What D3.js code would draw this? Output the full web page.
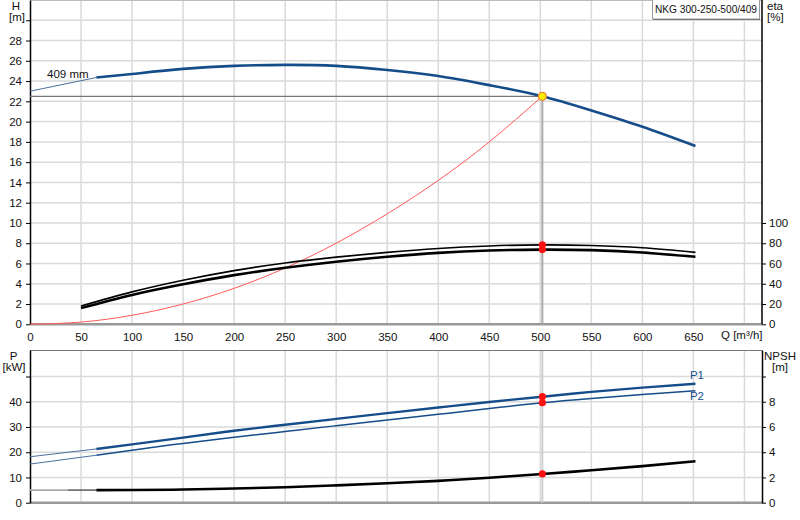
<!DOCTYPE html>
<html><head><meta charset="utf-8">
<script src="https://cdn.jsdelivr.net/npm/d3@7"></script>
<style>
html,body{margin:0;padding:0;background:#fff;}
svg{display:block;font-family:"Liberation Sans",Arial,sans-serif;}
</style></head>
<body><svg id="c" width="800" height="520"></svg>
<script>
// ---- data ----
const qHext = [0, 65];
const hExt = [23.0, 24.35];
const qH = [65, 100, 150, 200, 250, 300, 350, 400, 450, 500, 550, 600, 652];
const hVals = [24.35, 24.7, 25.2, 25.5, 25.6, 25.5, 25.1, 24.5, 23.6, 22.55, 21.1, 19.5, 17.6];

const qEta = [50, 100, 150, 200, 250, 300, 350, 400, 450, 500, 550, 600, 652];
const eta1 = [18, 32, 43.5, 53, 60.5, 66.3, 71, 74.8, 77.3, 78.4, 77.8, 75.5, 71];
const eta2 = [16, 29, 39.5, 48.5, 55.8, 61.8, 66.7, 70.5, 72.8, 73.7, 73.2, 70.9, 66.6];

const qSys = [0, 50, 100, 150, 200, 250, 300, 350, 400, 450, 502];
const hSys = [0, 0.22, 0.89, 2.0, 3.55, 5.55, 8.0, 10.9, 14.2, 18.0, 22.5];

const qPext = [0, 65];
const p1Ext = [18.2, 21.3];
const p2Ext = [15.3, 18.8];
const qP = [65, 100, 150, 200, 250, 300, 350, 400, 450, 502, 550, 600, 652];
const p1 = [21.3, 23.1, 25.8, 28.5, 30.9, 33.2, 35.5, 37.7, 39.9, 42.0, 43.9, 45.6, 47.1];
const p2 = [18.8, 20.8, 23.5, 25.9, 28.2, 30.5, 32.8, 35.0, 37.3, 39.6, 41.3, 42.9, 44.4];

const qNext1 = [0, 37];
const qNext2 = [37, 65];
const nExt = [1.0, 1.0];
const qN = [65, 100, 150, 200, 250, 300, 350, 400, 450, 502, 550, 600, 652];
const npsh = [1.0, 1.01, 1.04, 1.12, 1.23, 1.37, 1.54, 1.73, 1.98, 2.28, 2.57, 2.9, 3.29];

const qOp = 502;
const hOp = 22.5;
const eta1Op = 78.4, eta2Op = 73.7, p1Op = 42.0, p2Op = 39.6, npshOp = 2.28;

const qTicks = [0, 50, 100, 150, 200, 250, 300, 350, 400, 450, 500, 550, 600, 650];
const qGrid = [50, 100, 150, 200, 250, 300, 350, 400, 450, 500, 550, 600, 650, 700];
const hTicks = d3.range(0, 31, 2);
const etaTicks = [0, 20, 40, 60, 80, 100];
const pTicks = [0, 10, 20, 30, 40, 50];
const nTicks = [0, 2, 4, 6, 8, 10];
const title = "NKG 300-250-500/409";
const impeller = "409 mm";

// ---- scales ----
const L = 30, R = 762;
const x = d3.scaleLinear([0, 717.2], [L, R]);
const yH = d3.scaleLinear([0, 32], [324.3, 0]);
const yEta = d3.scaleLinear([0, 320], [324.3, 0]);
const yP = d3.scaleLinear([0, 60.5], [502.7, 350]);
const yN = d3.scaleLinear([0, 12.1], [502.7, 350]);

const svg = d3.select("#c");
const blue = "#154c8a";
const gridC = "#dadada";

function zip(a, b) { return a.map((v, i) => [v, b[i]]); }
function drawLine(xs, ys, ysc, color, w, curve) {
  const ln = d3.line().x(d => x(d[0])).y(d => ysc(d[1])).curve(curve || d3.curveNatural);
  svg.append("path").attr("d", ln(zip(xs, ys))).attr("fill", "none")
    .attr("stroke", color).attr("stroke-width", w).attr("stroke-linejoin", "round");
}

// ---- grids ----
const g = svg.append("g");
g.selectAll(".vt").data(qGrid).join("line")
  .attr("x1", d => x(d)).attr("x2", d => x(d)).attr("y1", 0).attr("y2", yH(0))
  .attr("stroke", gridC).attr("stroke-width", 1.5);
g.selectAll(".ht").data(hTicks.filter(d => d > 0)).join("line")
  .attr("x1", L).attr("x2", R).attr("y1", d => yH(d)).attr("y2", d => yH(d))
  .attr("stroke", gridC).attr("stroke-width", 1.5);
const g2 = svg.append("g");
g2.selectAll(".vb").data(qGrid).join("line")
  .attr("x1", d => x(d)).attr("x2", d => x(d)).attr("y1", 350).attr("y2", yP(0))
  .attr("stroke", gridC).attr("stroke-width", 1.5);
g2.selectAll(".hb").data(pTicks.filter(d => d > 0)).join("line")
  .attr("x1", L).attr("x2", R).attr("y1", d => yP(d)).attr("y2", d => yP(d))
  .attr("stroke", gridC).attr("stroke-width", 1.5);

// frames
svg.append("line").attr("x1", L).attr("x2", R).attr("y1", 0.5).attr("y2", 0.5).attr("stroke", "#bbb");
svg.append("line").attr("x1", L).attr("x2", R).attr("y1", yH(0)).attr("y2", yH(0)).attr("stroke", "#999").attr("stroke-width", 2.5);
svg.append("line").attr("x1", L).attr("x2", R).attr("y1", 350.5).attr("y2", 350.5).attr("stroke", "#777").attr("stroke-width", 1.2);
svg.append("line").attr("x1", L).attr("x2", R).attr("y1", yP(0)).attr("y2", yP(0)).attr("stroke", "#999").attr("stroke-width", 2.5);

// ---- axes ----
function styleAxis(sel) {
  sel.selectAll("path").attr("stroke", "#000").attr("stroke-width", 1.5);
  sel.selectAll("line").attr("stroke", "#000");
  sel.selectAll("text").attr("fill", "#111").style("font-size", "11.5px");
}
const axHL = svg.append("g").attr("transform", `translate(${L},0)`)
  .call(d3.axisLeft(yH).tickValues(hTicks).tickSize(4).tickSizeOuter(0).tickPadding(4)
    .tickFormat(d => d === 30 ? "" : d));
styleAxis(axHL);
const axER = svg.append("g").attr("transform", `translate(${R},0)`)
  .call(d3.axisRight(yEta).tickValues(etaTicks).tickSize(4).tickSizeOuter(0).tickPadding(3));
styleAxis(axER);
axER.select("path").attr("d", `M0,0V${yH(0)}`);
const axQ = svg.append("g").attr("transform", `translate(0,${yH(0)})`)
  .call(d3.axisBottom(x).tickValues(qTicks).tickSize(0).tickPadding(9));
axQ.select("path").remove();
axQ.selectAll("text").attr("fill", "#111").style("font-size", "11.5px");

const axPL = svg.append("g").attr("transform", `translate(${L},0)`)
  .call(d3.axisLeft(yP).tickValues(pTicks).tickSize(4).tickSizeOuter(0).tickPadding(4)
    .tickFormat(d => d === 50 ? "" : d));
styleAxis(axPL);
const axNR = svg.append("g").attr("transform", `translate(${R},0)`)
  .call(d3.axisRight(yN).tickValues(nTicks).tickSize(4).tickSizeOuter(0).tickPadding(3)
    .tickFormat(d => d === 10 ? "" : d));
styleAxis(axNR);

// ---- axis titles ----
function txt(s, tx, ty, anchor, size, color) {
  return svg.append("text").attr("x", tx).attr("y", ty).attr("text-anchor", anchor || "start")
    .attr("fill", color || "#111").style("font-size", (size || 11.5) + "px").text(s);
}
txt("H", 16, 9.5, "middle");
txt("[m]", 17, 21, "middle");
txt("eta", 767, 10, "start");
txt("[%]", 767, 21, "start");
txt("Q [m³/h]", 721, 338.5, "start");
txt("P", 13.5, 359.5, "middle");
txt("[kW]", 14, 371, "middle");
txt("NPSH", 780, 359.5, "middle");
txt("[m]", 780, 371, "middle");

// legend box
svg.append("rect").attr("x", 652.5).attr("y", -1).attr("width", 107).attr("height", 20)
  .attr("fill", "#fff").attr("stroke", "#999");
svg.append("line").attr("x1", 653).attr("x2", 760).attr("y1", 19.5).attr("y2", 19.5).attr("stroke", "#777").attr("stroke-width", 1.2);
txt(title, 655, 13, "start", 11).attr("textLength", 102).attr("lengthAdjust", "spacingAndGlyphs");

// ---- operating lines ----
svg.append("line").attr("x1", L).attr("x2", x(qOp)).attr("y1", yH(hOp)).attr("y2", yH(hOp))
  .attr("stroke", "#777").attr("stroke-width", 1.3);
svg.append("line").attr("x1", x(qOp)).attr("x2", x(qOp)).attr("y1", yH(hOp)).attr("y2", yH(0))
  .attr("stroke", "#aaa").attr("stroke-width", 2);
svg.append("line").attr("x1", x(qOp)).attr("x2", x(qOp)).attr("y1", 351).attr("y2", yP(0))
  .attr("stroke", "#cfcfcf").attr("stroke-width", 2);

// ---- curves ----
drawLine(qSys, hSys, yH, "#ff5a5a", 1);
drawLine(qEta, eta1, yEta, "#000", 1.6);
drawLine(qEta, eta2, yEta, "#000", 2.6);
drawLine(qHext, hExt, yH, "#4a6f9c", 1, d3.curveLinear);
drawLine(qH, hVals, yH, blue, 2.6);

drawLine(qPext, p1Ext, yP, "#4a6f9c", 1, d3.curveLinear);
drawLine(qPext, p2Ext, yP, "#4a6f9c", 1, d3.curveLinear);
drawLine(qP, p1, yP, blue, 2.4);
drawLine(qP, p2, yP, blue, 1.5);
drawLine(qNext1, nExt, yN, "#aaa", 1.6, d3.curveLinear);
drawLine(qNext2, nExt, yN, "#333", 1.2, d3.curveLinear);
drawLine(qN, npsh, yN, "#000", 2.6);

txt(impeller, 47, 78, "start", 11.5);
txt("P1", 697, 378.5, "middle", 11.5, blue);
txt("P2", 697, 400, "middle", 11.5, blue);

// ---- points ----
const dots = [[eta1Op, yEta], [eta2Op, yEta], [p1Op, yP], [p2Op, yP], [npshOp, yN]];
dots.forEach(([v, sc]) => {
  svg.append("circle").attr("cx", x(qOp)).attr("cy", sc(v)).attr("r", 3.6).attr("fill", "#ff1010");
});
svg.append("circle").attr("cx", x(qOp)).attr("cy", yH(hOp)).attr("r", 4)
  .attr("fill", "#ffee00").attr("stroke", "#f08030").attr("stroke-width", 1.3);
</script>
</body></html>
